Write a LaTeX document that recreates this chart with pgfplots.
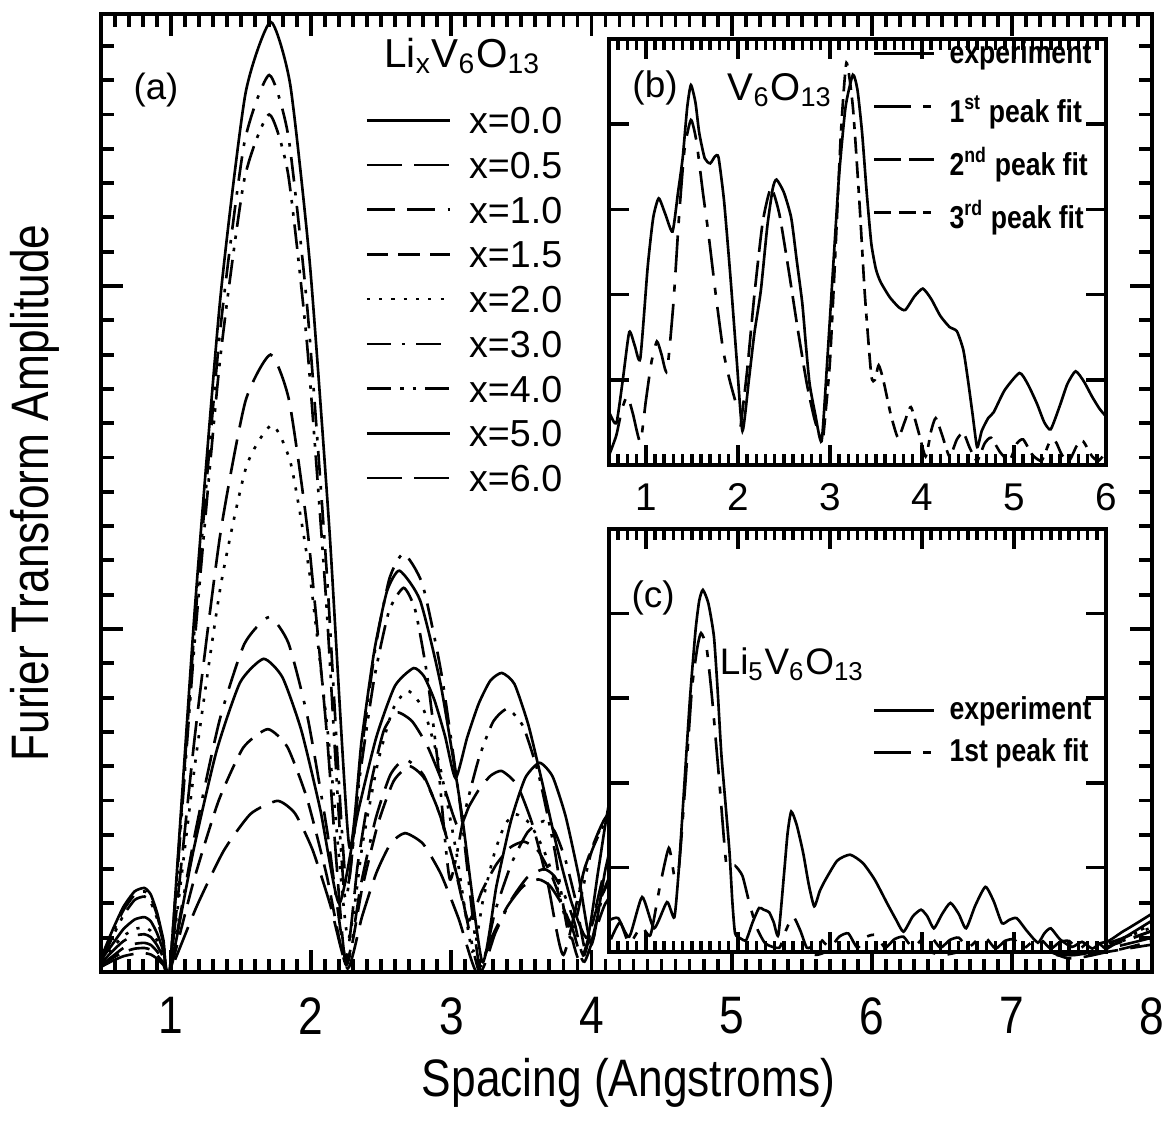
\documentclass[border=0pt]{standalone}
\usepackage{fontspec}
\setmainfont{Liberation Sans}[FakeStretch=0.84]
\newfontfamily\pf{Liberation Sans}
\usepackage{pgfplots}
\pgfplotsset{compat=1.18}
\newcommand\fs[1]{\fontsize{#1}{#1}\selectfont}
\pgfplotsset{
  ln/.style={black, line width=0.75pt, smooth, tension=0.35},
}
\begin{document}
\begin{tikzpicture}
\useasboundingbox (0,0) rectangle (116.9mm,112.5mm);
%================ MAIN AXIS =================
\begin{axis}[
  at={(10.1mm,15.3mm)}, anchor=south west,
  width=105.1mm, height=95.8mm, scale only axis,
  xmin=0.5, xmax=8, ymin=0, ymax=2.793,
  xtick={1,2,3,4,5,6,7,8}, xticklabels={1,2,3,4,5,6,7,8},
  extra x ticks={0.6,0.7,0.8,0.9,1.1,1.2,1.3,1.4,1.5,1.6,1.7,1.8,1.9,2.1,2.2,2.3,2.4,2.5,2.6,2.7,2.8,2.9,3.1,3.2,3.3,3.4,3.5,3.6,3.7,3.8,3.9,4.1,4.2,4.3,4.4,4.5,4.6,4.7,4.8,4.9,5.1,5.2,5.3,5.4,5.5,5.6,5.7,5.8,5.9,6.1,6.2,6.3,6.4,6.5,6.6,6.7,6.8,6.9,7.1,7.2,7.3,7.4,7.5,7.6,7.7,7.8,7.9},
  extra x tick labels={},
  extra x tick style={major tick length=1.3mm},
  ytick={0,1,2}, yticklabels={},
  extra y ticks={0.1,0.2,0.3,0.4,0.5,0.6,0.7,0.8,0.9,1.1,1.2,1.3,1.4,1.5,1.6,1.7,1.8,1.9,2.1,2.2,2.3,2.4,2.5,2.6,2.7},
  extra y tick labels={},
  extra y tick style={major tick length=1.3mm},
  tick align=inside, tick pos=both,
  major tick length=2.2mm,
  every tick/.style={black, line width=1.1pt},
  axis line style={line width=1.4pt},
  xticklabel style={font=\fs{15}, yshift=-1.3mm},
  xlabel={Spacing (Angstroms)}, ylabel={Furier Transform Amplitude},
  label style={font=\fs{15}},
  xlabel style={at={(axis description cs:0.502,-0.116)}, anchor=center},
  ylabel style={at={(axis description cs:-0.063,0.5)}, anchor=center},
  legend style={draw=none, fill=none, at={(0.251,0.909)}, anchor=north west,
    font=\pf\fs{10.7}, row sep=0.77mm, inner sep=0pt, column sep=1.8mm,
    nodes={inner sep=0pt, text height=3.2mm, text depth=0.5mm}},
  legend cell align=left,
  legend image code/.code={\draw[#1] (0mm,0mm) -- (8.3mm,0mm);},
]
% x=0.0 solid
\addplot[ln] coordinates {
(0.5,0.04)(0.58,0.12)(0.66,0.19)(0.74,0.235)(0.81,0.245)
(0.855,0.226)(0.90,0.173)(0.945,0.094)(0.99,0.0)
(1.17,1.061)(1.35,1.958)(1.53,2.559)(1.71,2.77)
(1.85,2.588)(1.99,2.067)(2.13,1.289)(2.27,0.37)
(2.36,0.676)(2.45,0.936)(2.54,1.109)(2.63,1.17)
(2.7775,1.083)(2.925,0.836)(3.0725,0.467)(3.22,0.03)
(3.3225,0.252)(3.425,0.440)(3.5275,0.566)(3.63,0.61)
(3.7225,0.570)(3.815,0.455)(3.9075,0.283)(4.0,0.08)
(4.1,0.3)(4.2,0.45)(4.4,0.5)(4.6,0.4)(4.9,0.1)(5.15,0.25)(5.4,0.3)(5.65,0.2)(5.9,0.08)
(6.4,0.25)(6.9,0.07)(7.3,0.2)(7.6,0.08)(7.8,0.12)(8.0,0.17)};
\addlegendentry{x=0.0}
% x=0.5 long dash
\addplot[ln, dash pattern=on 10pt off 3.5pt] coordinates {
(0.5,0.025)(0.58,0.06)(0.66,0.09)(0.74,0.106)(0.81,0.11)
(0.855,0.102)(0.90,0.078)(0.945,0.042)(0.99,0)
(1.17,0.689)(1.35,1.273)(1.53,1.663)(1.71,1.80)
(1.8425,1.666)(1.975,1.284)(2.1075,0.714)(2.24,0.04)
(2.3325,0.315)(2.425,0.547)(2.5175,0.703)(2.61,0.757)
(2.72,0.731)(2.83,0.658)(2.94,0.549)(3.05,0.42)
(3.1275,0.484)(3.205,0.537)(3.2825,0.573)(3.36,0.586)
(3.47,0.545)(3.58,0.429)(3.69,0.255)(3.80,0.05)
(3.95,0.3)(4.1,0.45)(4.3,0.5)(4.6,0.25)(4.9,0.08)(5.2,0.2)(5.5,0.15)(5.8,0.07)
(6.2,0.18)(6.7,0.07)(7.1,0.13)(7.5,0.06)(7.8,0.09)(8.0,0.12)};
\addlegendentry{x=0.5}
% x=1.0 long-long-dot
\addplot[ln, dash pattern=on 8pt off 3.5pt on 8pt off 3.5pt on 1pt off 3.5pt] coordinates {
(0.5,0.02)(0.58,0.045)(0.66,0.07)(0.74,0.082)(0.81,0.085)
(0.855,0.079)(0.90,0.06)(0.945,0.033)(0.99,0)
(1.1675,0.396)(1.345,0.732)(1.5225,0.956)(1.70,1.035)
(1.8375,0.959)(1.975,0.741)(2.1125,0.415)(2.25,0.03)
(2.355,0.256)(2.46,0.447)(2.565,0.575)(2.67,0.62)
(2.8025,0.573)(2.935,0.438)(3.0675,0.237)(3.20,0.0)
(3.315,0.115)(3.43,0.212)(3.545,0.277)(3.66,0.30)
(3.7325,0.281)(3.805,0.227)(3.8775,0.146)(3.95,0.05)
(4.1,0.3)(4.3,0.4)(4.6,0.2)(4.9,0.08)(5.2,0.18)(5.6,0.07)(6.0,0.15)(6.5,0.06)
(7.0,0.12)(7.4,0.05)(7.7,0.07)(8.0,0.1)};
\addlegendentry{x=1.0}
% x=1.5 medium dashes
\addplot[ln, dash pattern=on 6pt off 3pt] coordinates {
(0.5,0.02)(0.58,0.04)(0.66,0.058)(0.74,0.068)(0.81,0.07)
(0.855,0.065)(0.90,0.049)(0.945,0.027)(0.99,0)
(1.165,0.271)(1.34,0.50)(1.515,0.654)(1.69,0.708)
(1.83,0.656)(1.97,0.506)(2.11,0.283)(2.25,0.02)
(2.3625,0.242)(2.475,0.43)(2.5875,0.556)(2.70,0.60)
(2.805,0.566)(2.91,0.468)(3.015,0.322)(3.12,0.15)
(3.22,0.238)(3.32,0.313)(3.42,0.363)(3.52,0.38)
(3.62,0.353)(3.72,0.277)(3.82,0.164)(3.92,0.03)
(4.05,0.2)(4.2,0.3)(4.5,0.2)(4.8,0.07)(5.1,0.15)(5.5,0.06)(5.9,0.14)(6.4,0.06)
(6.9,0.11)(7.3,0.05)(7.7,0.06)(8.0,0.09)};
\addlegendentry{x=1.5}
% x=2.0 dotted
\addplot[ln, dash pattern=on 0.9pt off 2.6pt] coordinates {
(0.5,0.03)(0.58,0.07)(0.66,0.105)(0.74,0.125)(0.81,0.13)
(0.855,0.12)(0.90,0.092)(0.945,0.05)(0.99,0)
(1.1725,0.611)(1.355,1.128)(1.5375,1.474)(1.72,1.595)
(1.855,1.481)(1.99,1.157)(2.125,0.673)(2.26,0.10)
(2.3675,0.376)(2.475,0.609)(2.5825,0.765)(2.69,0.82)
(2.805,0.762)(2.92,0.597)(3.035,0.351)(3.15,0.06)
(3.2275,0.213)(3.305,0.343)(3.3825,0.43)(3.46,0.46)
(3.5575,0.434)(3.655,0.36)(3.7525,0.25)(3.85,0.12)
(3.95,0.3)(4.1,0.45)(4.3,0.55)(4.6,0.35)(4.9,0.08)(5.2,0.22)(5.5,0.18)(5.8,0.07)
(6.2,0.18)(6.7,0.07)(7.1,0.13)(7.5,0.06)(7.8,0.1)(8.0,0.13)};
\addlegendentry{x=2.0}
% x=3.0 dash-dot
\addplot[ln, dash pattern=on 7pt off 3pt on 1pt off 3pt] coordinates {
(0.5,0.03)(0.58,0.11)(0.66,0.18)(0.74,0.225)(0.81,0.235)
(0.855,0.217)(0.90,0.166)(0.945,0.09)(0.99,0.0)
(1.1675,1.0015)(1.345,1.849)(1.5225,2.416)(1.70,2.615)
(1.8375,2.435)(1.975,1.922)(2.1125,1.156)(2.25,0.25)
(2.3525,0.621)(2.455,0.936)(2.5575,1.146)(2.66,1.22)
(2.795,1.129)(2.93,0.868)(3.065,0.480)(3.20,0.02)
(3.315,0.181)(3.43,0.317)(3.545,0.408)(3.66,0.44)
(3.7375,0.410)(3.815,0.326)(3.8925,0.199)(3.97,0.05)
(4.1,0.25)(4.3,0.4)(4.5,0.3)(4.8,0.08)(5.1,0.2)(5.4,0.25)(5.8,0.08)(6.2,0.2)
(6.7,0.08)(7.1,0.15)(7.5,0.07)(7.8,0.1)(8.0,0.14)};
\addlegendentry{x=3.0}
% x=4.0 dash-dot-dot
\addplot[ln, dash pattern=on 7pt off 2.5pt on 1pt off 2.5pt on 1pt off 2.5pt] coordinates {
(0.5,0.03)(0.58,0.10)(0.66,0.165)(0.74,0.21)(0.81,0.22)
(0.855,0.203)(0.90,0.156)(0.945,0.084)(0.99,0)
(1.1675,0.9575)(1.345,1.7675)(1.5225,2.31)(1.70,2.50)
(1.835,2.327)(1.97,1.832)(2.105,1.093)(2.24,0.22)
(2.345,0.565)(2.45,0.856)(2.555,1.052)(2.66,1.12)
(2.7425,1.055)(2.825,0.871)(2.9075,0.596)(2.99,0.27)
(3.0925,0.460)(3.195,0.621)(3.2975,0.729)(3.40,0.767)
(3.5125,0.716)(3.625,0.572)(3.7375,0.355)(3.85,0.10)
(4.0,0.35)(4.2,0.5)(4.4,0.4)(4.7,0.1)(5.0,0.25)(5.3,0.2)(5.6,0.08)(6.0,0.2)
(6.5,0.08)(7.0,0.15)(7.4,0.07)(7.7,0.08)(8.0,0.12)};
\addlegendentry{x=4.0}
% x=5.0 solid
\addplot[ln] coordinates {
(0.5,0.035)(0.58,0.08)(0.66,0.125)(0.74,0.153)(0.81,0.16)
(0.855,0.148)(0.90,0.113)(0.945,0.061)(0.99,0)
(1.1575,0.350)(1.325,0.645)(1.4925,0.844)(1.66,0.913)
(1.795,0.859)(1.93,0.704)(2.065,0.473)(2.20,0.20)
(2.3325,0.463)(2.465,0.685)(2.5975,0.834)(2.73,0.886)
(2.805,0.862)(2.88,0.792)(2.955,0.688)(3.03,0.565)
(3.1125,0.683)(3.195,0.782)(3.2775,0.849)(3.36,0.872)
(3.45,0.84)(3.55,0.72)(3.65,0.55)(3.75,0.37)(3.86,0.2)(3.97,0.10)
(4.05,0.3)(4.13,0.5)(4.3,0.75)(4.5,0.7)(4.8,0.3)(5.0,0.1)(5.3,0.3)(5.6,0.2)
(5.9,0.08)(6.3,0.2)(6.8,0.08)(7.2,0.15)(7.6,0.06)(7.8,0.1)(8.0,0.15)};
\addlegendentry{x=5.0}
% x=6.0 long dash
\addplot[ln, dash pattern=on 10pt off 3.5pt] coordinates {
(0.5,0.015)(0.58,0.032)(0.66,0.046)(0.74,0.053)(0.81,0.055)
(0.855,0.051)(0.90,0.039)(0.945,0.021)(0.99,0)
(1.1825,0.191)(1.375,0.353)(1.5675,0.461)(1.76,0.499)
(1.885,0.462)(2.01,0.356)(2.135,0.197)(2.26,0.01)
(2.3625,0.161)(2.465,0.289)(2.5675,0.375)(2.67,0.405)
(2.7975,0.374)(2.925,0.286)(3.0525,0.155)(3.18,0.0)
(3.29,0.103)(3.40,0.191)(3.51,0.249)(3.62,0.27)
(3.7025,0.252)(3.785,0.2)(3.8675,0.122)(3.95,0.03)
(4.1,0.2)(4.3,0.28)(4.6,0.15)(4.9,0.06)(5.2,0.13)(5.6,0.05)(6.0,0.12)(6.5,0.05)
(7.0,0.1)(7.4,0.04)(7.7,0.06)(8.0,0.08)};
\addlegendentry{x=6.0}
\node[font=\pf\fs{11.5}] at (axis cs:3.08,2.67) {Li\textsubscript{x}V\textsubscript{6}O\textsubscript{13}};
\node[font=\pf\fs{10.4}] at (axis cs:0.893,2.57) {(a)};
\end{axis}
%================ INSET (b) =================
\begin{axis}[
  at={(60.9mm,66.0mm)}, anchor=south west,
  width=49.7mm, height=42.6mm, scale only axis,
  axis background/.style={fill=white},
  xmin=0.6, xmax=6, ymin=0, ymax=5,
  xtick={1,2,3,4,5,6}, xticklabels={1,2,3,4,5,6},
  extra x ticks={0.7,0.8,0.9,1.1,1.2,1.3,1.4,1.5,1.6,1.7,1.8,1.9,2.1,2.2,2.3,2.4,2.5,2.6,2.7,2.8,2.9,3.1,3.2,3.3,3.4,3.5,3.6,3.7,3.8,3.9,4.1,4.2,4.3,4.4,4.5,4.6,4.7,4.8,4.9,5.1,5.2,5.3,5.4,5.5,5.6,5.7,5.8,5.9},
  extra x tick labels={},
  extra x tick style={major tick length=1.1mm},
  ytick={1,2,3,4}, yticklabels={},
  tick align=inside, tick pos=both,
  major tick length=2mm,
  every tick/.style={black, line width=1.0pt},
  axis line style={line width=1.3pt},
  xticklabel style={font=\pf\fs{11}, yshift=-0.6mm},
  legend style={draw=none, fill=none, at={(0.972,1.028)}, anchor=north east,
    font=\bfseries\fs{9}, row sep=0.1mm, inner sep=0pt, column sep=1.4mm,
    nodes={inner sep=0pt, text height=3.6mm, text depth=1.6mm}},
  legend cell align=left,
  legend image code/.code={\draw[#1] (0mm,0mm) -- (6mm,0mm);},
]
\addplot[ln] coordinates {
(0.61,0.60)(0.68,0.49)(0.75,1.0)(0.82,1.56)(0.88,1.40)(0.94,1.25)(1.02,2.32)(1.08,2.9)
(1.14,3.13)(1.21,2.95)(1.29,2.74)(1.35,3.2)(1.40,3.6)(1.45,4.2)(1.49,4.46)(1.54,4.25)
(1.58,3.9)(1.64,3.6)(1.70,3.54)(1.75,3.62)(1.79,3.61)(1.85,3.1)(1.92,2.2)(1.99,1.2)
(2.05,0.40)(2.12,1.0)(2.18,1.55)(2.25,2.05)(2.32,2.8)(2.38,3.25)(2.42,3.35)(2.50,3.2)
(2.58,2.9)(2.64,2.4)(2.70,1.9)(2.74,1.4)(2.78,0.95)(2.84,0.6)(2.91,0.28)(2.97,1.2)
(3.04,2.4)(3.10,3.4)(3.17,4.2)(3.25,4.58)(3.30,4.4)(3.35,3.9)(3.40,3.2)(3.45,2.6)
(3.50,2.3)(3.55,2.15)(3.65,1.97)(3.75,1.85)(3.82,1.82)(3.92,1.98)(4.01,2.07)(4.10,1.95)
(4.20,1.75)(4.30,1.62)(4.38,1.57)(4.45,1.35)(4.50,1.0)(4.55,0.6)(4.60,0.21)(4.65,0.4)
(4.72,0.55)(4.78,0.62)(4.90,0.88)(5.06,1.08)(5.15,0.95)(5.25,0.72)(5.33,0.5)(5.40,0.42)
(5.50,0.7)(5.58,0.95)(5.67,1.1)(5.76,0.98)(5.85,0.8)(5.93,0.66)(6.0,0.57)};
\addlegendentry{experiment}
\addplot[ln, dash pattern=on 10.5pt off 3.5pt on 2pt off 3.5pt] coordinates {
(0.61,0.14)(0.68,0.35)(0.74,0.65)(0.80,0.81)(0.86,0.6)(0.94,0.27)(1.0,0.75)(1.06,1.2)
(1.12,1.45)(1.17,1.3)(1.23,1.10)(1.30,1.9)(1.36,2.9)(1.42,3.7)(1.49,4.05)(1.55,3.8)
(1.62,3.2)(1.68,2.72)(1.76,2.0)(1.84,1.35)(1.91,1.0)(1.97,0.76)};
\addlegendentry{\raisebox{-0.6mm}{1\textsuperscript{st}\hspace{0.7mm}peak fit}}
\addplot[ln, dash pattern=on 7.5pt off 2.5pt] coordinates {
(2.03,0.45)(2.10,1.1)(2.18,2.0)(2.27,2.85)(2.36,3.25)(2.45,2.95)(2.55,2.3)(2.65,1.6)
(2.75,0.95)(2.83,0.55)(2.90,0.3)};
\addlegendentry{\raisebox{-0.6mm}{2\textsuperscript{nd}\hspace{0.7mm}peak fit}}
\addplot[ln, dash pattern=on 4.8pt off 2.2pt on 4.8pt off 2.2pt on 2pt off 2.2pt] coordinates {
(2.93,0.35)(3.0,1.2)(3.06,2.5)(3.12,3.9)(3.18,4.72)(3.25,4.2)(3.32,3.1)(3.38,2.0)
(3.45,1.05)(3.49,1.0)(3.53,1.17)(3.58,1.0)(3.66,0.6)(3.74,0.32)(3.81,0.5)(3.88,0.68)
(3.96,0.4)(4.04,0.1)(4.10,0.4)(4.15,0.55)(4.22,0.35)(4.3,0.1)(4.38,0.3)(4.45,0.38)
(4.52,0.2)(4.6,0.05)(4.68,0.25)(4.75,0.32)(4.85,0.15)(4.95,0.05)(5.03,0.25)(5.1,0.3)
(5.2,0.12)(5.3,0.05)(5.38,0.25)(5.45,0.28)(5.52,0.12)(5.6,0.05)(5.68,0.22)(5.75,0.28)
(5.85,0.1)(5.92,0.05)(6.0,0.15)};
\addlegendentry{\raisebox{-0.6mm}{3\textsuperscript{rd}\hspace{0.7mm}peak fit}}
\node[font=\pf\fs{10.5}] at (axis cs:1.10,4.42) {(b)};
\node[font=\pf\fs{11}] at (axis cs:2.46,4.40) {V\textsubscript{6}O\textsubscript{13}};
\end{axis}
%================ INSET (c) =================
\begin{axis}[
  at={(60.9mm,17.3mm)}, anchor=south west,
  width=49.7mm, height=42.3mm, scale only axis,
  axis background/.style={fill=white},
  xmin=0.6, xmax=6, ymin=0, ymax=5,
  xtick={1,2,3,4,5,6}, xticklabels={},
  extra x ticks={0.7,0.8,0.9,1.1,1.2,1.3,1.4,1.5,1.6,1.7,1.8,1.9,2.1,2.2,2.3,2.4,2.5,2.6,2.7,2.8,2.9,3.1,3.2,3.3,3.4,3.5,3.6,3.7,3.8,3.9,4.1,4.2,4.3,4.4,4.5,4.6,4.7,4.8,4.9,5.1,5.2,5.3,5.4,5.5,5.6,5.7,5.8,5.9},
  extra x tick labels={},
  extra x tick style={major tick length=1.1mm},
  ytick={1,2,3,4}, yticklabels={},
  tick align=inside, tick pos=both,
  major tick length=2mm,
  every tick/.style={black, line width=1.0pt},
  axis line style={line width=1.3pt},
  legend style={draw=none, fill=none, at={(0.972,0.615)}, anchor=north east,
    font=\bfseries\fs{9}, row sep=0.6mm, inner sep=0pt, column sep=1.4mm,
    nodes={inner sep=0pt, text height=2.7mm, text depth=0.9mm}},
  legend cell align=left,
  legend image code/.code={\draw[#1] (0mm,0mm) -- (6mm,0mm);},
]
\addplot[ln] coordinates {
(0.61,0.38)(0.70,0.40)(0.82,0.18)(0.96,0.65)(1.09,0.28)(1.23,0.59)(1.31,0.41)(1.36,1.0)
(1.42,2.0)(1.48,3.0)(1.54,3.8)(1.58,4.15)(1.62,4.28)(1.68,4.12)(1.74,3.73)(1.78,3.1)
(1.82,2.35)(1.87,1.7)(1.91,1.17)(1.94,0.6)(1.97,0.22)(2.03,0.16)(2.09,0.14)(2.16,0.35)
(2.23,0.52)(2.28,0.5)(2.34,0.47)(2.39,0.35)(2.44,0.2)(2.50,0.9)(2.54,1.4)(2.58,1.66)
(2.64,1.5)(2.71,1.17)(2.77,0.8)(2.83,0.54)(2.89,0.72)(2.95,0.85)(3.08,1.08)(3.22,1.15)
(3.36,1.05)(3.49,0.85)(3.62,0.58)(3.72,0.38)(3.80,0.24)(3.90,0.42)(3.99,0.50)(4.06,0.42)
(4.13,0.28)(4.22,0.45)(4.31,0.58)(4.40,0.45)(4.48,0.28)(4.58,0.55)(4.69,0.77)(4.78,0.6)
(4.87,0.34)(4.95,0.38)(5.03,0.40)(5.14,0.25)(5.26,0.11)(5.33,0.22)(5.40,0.28)(5.50,0.15)
(5.63,0.06)(5.74,0.12)(5.85,0.04)(5.93,0.1)(6.0,0.12)};
\addlegendentry{experiment}
\addplot[ln, dash pattern=on 10.5pt off 3.5pt on 2pt off 3.5pt] coordinates {
(0.62,0.15)(0.72,0.35)(0.82,0.1)(0.95,0.3)(1.05,0.2)(1.15,0.76)(1.25,1.23)(1.31,0.9)
(1.36,1.0)(1.43,2.0)(1.50,3.1)(1.56,3.6)(1.60,3.77)(1.66,3.6)(1.72,3.0)(1.80,2.0)
(1.87,1.08)(1.92,1.0)(1.97,1.02)(2.05,0.9)(2.12,0.6)(2.2,0.3)(2.3,0.1)(2.45,0.05)
(2.52,0.25)(2.6,0.42)(2.68,0.25)(2.75,0.05)(2.83,0.08)(2.9,0.15)(3.0,0.05)(3.1,0.18)
(3.2,0.22)(3.3,0.05)(3.4,0.18)(3.5,0.2)(3.6,0.05)(3.7,0.15)(3.8,0.18)(3.9,0.05)
(4.0,0.15)(4.1,0.18)(4.2,0.05)(4.3,0.14)(4.4,0.17)(4.5,0.05)(4.6,0.14)(4.7,0.16)
(4.8,0.04)(4.9,0.13)(5.0,0.15)(5.1,0.04)(5.2,0.12)(5.3,0.14)(5.4,0.04)(5.5,0.12)
(5.6,0.13)(5.7,0.03)(5.8,0.11)(5.9,0.12)(6.0,0.03)};
\addlegendentry{1st peak fit}
\node[font=\pf\fs{10.5}] at (axis cs:1.08,4.19) {(c)};
\node[font=\pf\fs{10.5}] at (axis cs:2.59,3.40) {Li\textsubscript{5}V\textsubscript{6}O\textsubscript{13}};
\end{axis}
\end{tikzpicture}
\end{document}
